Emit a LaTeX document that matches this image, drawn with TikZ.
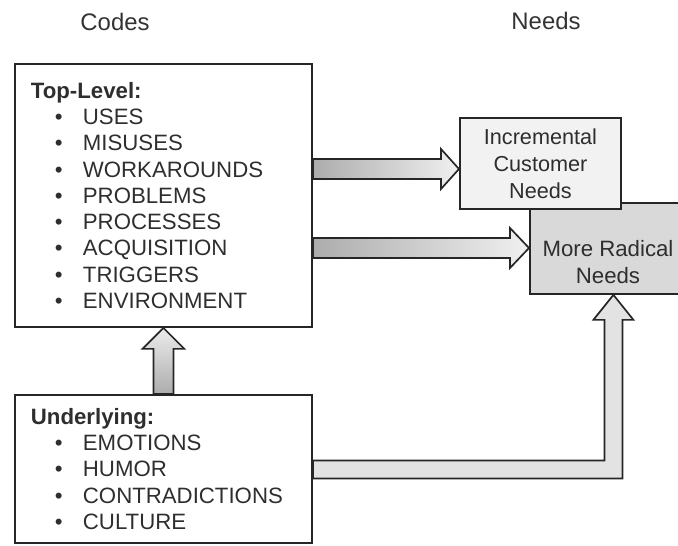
\documentclass[tikz,border=0pt]{standalone}
\usepackage{fontspec}
\setmainfont{Liberation Sans}
\usepackage{xcolor}
\usepackage{tikz}
\usetikzlibrary{positioning,calc}

\newcommand{\itm}[1]{\\\hspace*{17pt}\makebox[20pt][l]{\textbullet}#1}

\begin{document}
\begin{tikzpicture}[
        x=0.025cm, y=-0.025cm,
        font=\fontsize{15.8}{18.7}\selectfont,
        text=black!82,
        codebox/.style={
            draw=black!85, line width=1.3pt, anchor=north west,
            align=left, text width=6.625cm, inner sep=0.4cm
        },
        needbox/.style={
            draw=black!85, line width=1.3pt, anchor=north west,
            align=center, inner sep=0pt
        },
        head/.style={font=\fontsize{17}{20}\selectfont, text=black!80},
        blk/.style={draw=black!85, line width=1.2pt, line join=miter}
    ]
    \useasboundingbox (0,0) rectangle (678,546);
    \clip (0,0) rectangle (678,546);

    % Headings
    \node[head] (codes) at (115,22) {Codes};
    \node[head] (needs) at (546,21) {Needs};

    % Codes
    \node[codebox, minimum height=6.575cm] (top) at (14,63)
        {\textbf{Top-Level:}\itm{USES}\itm{MISUSES}\itm{WORKAROUNDS}\itm{PROBLEMS}%
         \itm{PROCESSES}\itm{ACQUISITION}\itm{TRIGGERS}\itm{ENVIRONMENT}\\[3pt]};
    \node[codebox, inner ysep=0.2cm, minimum height=3.7cm] (under) at (14,394)
        {\textbf{Underlying:}\itm{EMOTIONS}\itm{HUMOR}\itm{CONTRADICTIONS}\itm{CULTURE}};

    % Needs
    \node[needbox, fill=gray!30, minimum width=3.95cm, minimum height=2.275cm] (radical) at (529,202) {};
    \node[align=center] (radtext) at (608,262) {More Radical\\Needs};
    \node[needbox, fill=gray!10, minimum width=4.025cm, minimum height=2.275cm,
          font=\fontsize{15.4}{19.2}\selectfont] (incr) at (459,117)
        {Incremental\\Customer\\Needs};

    % Top-Level -> Incremental
    \coordinate (a1s) at (top.east |- 0,169);
    \coordinate (a1e) at (incr.west |- a1s);
    \draw[blk, left color=gray!65, right color=gray!12]
        ($(a1s)+(0,-10)$) -- ($(a1e)+(-18,-10)$) -- ($(a1e)+(-18,-20)$) -- (a1e)
        -- ($(a1e)+(-18,20)$) -- ($(a1e)+(-18,10)$) -- ($(a1s)+(0,10)$) -- cycle;

    % Top-Level -> More Radical
    \coordinate (a2s) at (top.east |- 0,248);
    \coordinate (a2e) at (radical.west |- a2s);
    \draw[blk, left color=gray!65, right color=gray!12]
        ($(a2s)+(0,-10)$) -- ($(a2e)+(-19,-10)$) -- ($(a2e)+(-19,-20)$) -- (a2e)
        -- ($(a2e)+(-19,20)$) -- ($(a2e)+(-19,10)$) -- ($(a2s)+(0,10)$) -- cycle;

    % Underlying -> Top-Level
    \coordinate (u1) at (under.north);
    \coordinate (u2) at (top.south);
    \draw[blk, top color=gray!15, bottom color=gray!65]
        ($(u1)+(-10,0)$) -- ($(u2)+(-10,21)$) -- ($(u2)+(-21,21)$) -- (u2)
        -- ($(u2)+(21,21)$) -- ($(u2)+(10,21)$) -- ($(u1)+(10,0)$) -- cycle;

    % Underlying -> More Radical
    \coordinate (e1) at (under.east |- 0,469.5);
    \coordinate (e3) at ($(radical.south)+(4.5,0)$);
    \coordinate (e2) at (e3 |- e1);
    \draw[blk, fill=gray!22]
        ($(e1)+(0,-9)$) -- ($(e2)+(-9,-9)$) -- ($(e3)+(-9,25)$) -- ($(e3)+(-20,25)$) -- (e3)
        -- ($(e3)+(20,25)$) -- ($(e3)+(9,25)$) -- ($(e2)+(9,9)$) -- ($(e1)+(0,9)$) -- cycle;

\end{tikzpicture}
\end{document}
